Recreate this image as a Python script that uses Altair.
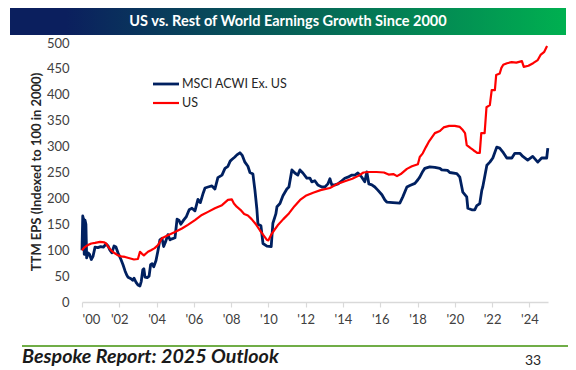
import altair as alt
import pandas as pd

title_text = "US vs. Rest of World Earnings Growth Since 2000"
footer_text = "Bespoke Report: 2025 Outlook"
page_number = "33"
y_title = "TTM EPS (Indexed to 100 in 2000)"

series_names = ["MSCI ACWI Ex. US", "US"]
series_colors = ["#002060", "#ff0000"]
series_widths = [2.8, 2.2]

x_ticks = [2000, 2002, 2004, 2006, 2008, 2010, 2012, 2014, 2016, 2018, 2020, 2022, 2024]
y_ticks = [0, 50, 100, 150, 200, 250, 300, 350, 400, 450, 500]

msci_years = [
    2000.00, 2000.04, 2000.08, 2000.12, 2000.16, 2000.21, 2000.25, 2000.32, 2000.40, 2000.50,
    2000.59, 2000.70, 2000.85, 2001.00, 2001.15, 2001.29, 2001.40, 2001.50, 2001.60, 2001.72,
    2001.82, 2001.93, 2002.09, 2002.20, 2002.31, 2002.40, 2002.47, 2002.63, 2002.72, 2002.79,
    2002.90, 2003.00, 2003.11, 2003.18, 2003.26, 2003.32, 2003.38, 2003.50, 2003.60, 2003.68,
    2003.76, 2003.85, 2003.97, 2004.08, 2004.18, 2004.29, 2004.38, 2004.50, 2004.61, 2004.72,
    2004.83, 2004.99, 2005.10, 2005.20, 2005.30, 2005.45, 2005.60, 2005.75, 2005.90, 2006.06,
    2006.22, 2006.35, 2006.50, 2006.60, 2006.76, 2006.97, 2007.13, 2007.29, 2007.51, 2007.67,
    2007.83, 2007.95, 2008.04, 2008.20, 2008.31, 2008.47, 2008.60, 2008.74, 2008.90, 2009.01,
    2009.17, 2009.28, 2009.38, 2009.44, 2009.60, 2009.71, 2009.92, 2010.15, 2010.24, 2010.40,
    2010.46, 2010.62, 2010.78, 2010.99, 2011.10, 2011.26, 2011.42, 2011.58, 2011.69, 2011.85,
    2012.06, 2012.23, 2012.33, 2012.49, 2012.65, 2012.87, 2013.03, 2013.19, 2013.30, 2013.40,
    2013.57, 2013.73, 2013.94, 2014.10, 2014.26, 2014.48, 2014.64, 2014.80, 2015.01, 2015.17,
    2015.28, 2015.39, 2015.55, 2015.71, 2015.87, 2016.09, 2016.25, 2016.35, 2016.68, 2017.05,
    2017.21, 2017.43, 2017.59, 2017.86, 2018.02, 2018.12, 2018.28, 2018.39, 2018.66, 2018.93,
    2019.20, 2019.30, 2019.62, 2019.73, 2020.11, 2020.27, 2020.43, 2020.64, 2020.70, 2020.91,
    2021.07, 2021.18, 2021.34, 2021.45, 2021.50, 2021.72, 2021.88, 2022.04, 2022.25, 2022.41,
    2022.57, 2022.79, 2023.06, 2023.22, 2023.49, 2023.65, 2023.91, 2024.18, 2024.45, 2024.66,
    2024.93, 2024.99,
]
msci_values = [
    100, 166, 160, 92, 158, 150, 85, 95, 92, 82,
    88, 106, 105, 107, 106, 112, 108, 100, 95, 108,
    106, 95, 82, 72, 60, 52, 48, 45, 42, 46,
    38, 33, 31, 40, 62, 64, 48, 47, 50, 72,
    74, 68, 80, 100, 120, 123, 107, 118, 130, 120,
    122, 124, 160, 158, 150, 158, 165, 178, 181, 176,
    198, 192, 210, 220, 222, 224, 218, 240, 245, 258,
    262, 272, 275, 280, 284, 288, 283, 270, 262, 250,
    247, 215, 180, 150, 147, 113, 108, 107, 152, 170,
    184, 190, 205, 218, 222, 255, 249, 245, 255, 249,
    239, 239, 232, 234, 226, 222, 222, 228, 238, 226,
    226, 228, 234, 239, 241, 245, 245, 249, 241, 232,
    251, 228, 226, 222, 216, 207, 197, 193, 192, 191,
    203, 222, 225, 229, 236, 241, 252, 258, 261, 260,
    258, 255, 254, 250, 248, 241, 212, 203, 181, 178,
    178, 186, 190, 216, 222, 264, 270, 278, 299, 297,
    290, 278, 278, 287, 287, 281, 274, 281, 270, 278,
    278, 297,
]

us_years = [
    2000.00, 2000.15, 2000.32, 2000.50, 2000.70, 2000.97, 2001.20, 2001.29, 2001.40, 2001.55,
    2001.72, 2001.93, 2002.10, 2002.31, 2002.60, 2002.79, 2003.00, 2003.11, 2003.22, 2003.32,
    2003.54, 2003.70, 2003.90, 2004.08, 2004.29, 2004.61, 2004.99, 2005.36, 2005.68, 2006.06,
    2006.43, 2006.76, 2007.13, 2007.51, 2007.83, 2008.04, 2008.15, 2008.30, 2008.50, 2008.70,
    2008.90, 2009.10, 2009.35, 2009.55, 2009.71, 2009.92, 2010.00, 2010.15, 2010.30, 2010.50,
    2010.80, 2011.10, 2011.40, 2011.70, 2012.00, 2012.40, 2012.80, 2013.30, 2013.70, 2014.10,
    2014.50, 2014.80, 2015.10, 2015.40, 2015.80, 2016.20, 2016.45, 2016.70, 2016.90, 2017.10,
    2017.43, 2017.70, 2018.02, 2018.12, 2018.28, 2018.45, 2018.60, 2018.93, 2019.20, 2019.40,
    2019.70, 2020.00, 2020.27, 2020.43, 2020.55, 2020.64, 2020.85, 2021.00, 2021.20, 2021.34,
    2021.42, 2021.60, 2021.70, 2021.88, 2021.98, 2022.15, 2022.22, 2022.41, 2022.50, 2022.60,
    2022.80, 2023.05, 2023.30, 2023.60, 2023.70, 2023.95, 2024.20, 2024.45, 2024.60, 2024.80,
    2024.95,
]
us_values = [
    100, 106, 110, 113, 114, 116, 115, 113, 107, 100,
    95, 90, 88, 87, 84, 82, 83, 97, 93, 90,
    97, 100, 104, 110, 123, 129, 135, 142, 149, 158,
    168, 174, 181, 187, 197, 198, 190, 184, 178, 170,
    167, 160, 149, 138, 130, 120, 119, 130, 138, 148,
    160, 171, 185, 197, 205, 211, 216, 220, 228, 233,
    238, 243, 250, 251, 251, 250, 246, 247, 243, 247,
    257, 262, 266, 280, 287, 299, 309, 326, 330, 337,
    340, 340, 338, 332, 326, 303, 297, 293, 288, 288,
    326, 326, 376, 380, 409, 409, 438, 441, 452, 458,
    461, 463, 462, 465, 454, 456, 461, 467, 477, 483,
    494,
]

df = pd.concat([
    pd.DataFrame({"year": msci_years, "value": msci_values, "series": series_names[0]}),
    pd.DataFrame({"year": us_years, "value": us_values, "series": series_names[1]}),
], ignore_index=True)

FONT = "Lato"
W, H = 466, 259

color_scale = alt.Scale(domain=series_names, range=series_colors)

lines = alt.Chart(df).mark_line(interpolate="linear", strokeJoin="round").encode(
    x=alt.X(
        "year:Q",
        scale=alt.Scale(domain=[2000, 2025], nice=False, zero=False),
        axis=alt.Axis(
            values=x_ticks,
            labelExpr="\"'\" + substring(toString(datum.value), 2, 4)",
            title=None, grid=False,
            domainColor="#d9d9d9", domainWidth=1.5,
            tickColor="#d9d9d9", tickSize=5, tickWidth=1.2,
            labelFont=FONT, labelFontSize=13, labelColor="#404040",
            labelPadding=6,
        ),
    ),
    y=alt.Y(
        "value:Q",
        scale=alt.Scale(domain=[0, 500], nice=False),
        axis=alt.Axis(
            values=y_ticks, title=y_title, grid=False, domain=False,
            ticks=False, tickSize=0, labelPadding=13,
            labelFont=FONT, labelFontSize=13, labelColor="#404040",
            titleFont=FONT, titleFontSize=13, titleFontWeight="bold",
            titleColor="#262626", titleAngle=270, titleX=-46, titleY=H / 2 - 1,
            titleAlign="center", titleBaseline="middle",
        ),
    ),
    color=alt.Color("series:N", scale=color_scale, legend=None),
    strokeWidth=alt.StrokeWidth(
        "series:N",
        scale=alt.Scale(domain=series_names, range=series_widths),
        legend=None,
    ),
)

# manual legend (positions in pixels relative to the plot area)
legend_layers = []
for i, (name, width) in enumerate(zip(series_names, series_widths)):
    ldf = pd.DataFrame({"series": [name]})
    yy = 41 + 19 * i
    legend_layers.append(
        alt.Chart(ldf).mark_rule().encode(
            x=alt.value(71), x2=alt.value(97), y=alt.value(yy),
            color=alt.Color("series:N", scale=color_scale, legend=None),
            strokeWidth=alt.value(width),
        )
    )
    legend_layers.append(
        alt.Chart(ldf).mark_text(
            font=FONT, fontSize=12.5, color="#262626", align="left", baseline="middle",
        ).encode(x=alt.value(100), y=alt.value(yy), text="series:N")
    )

banner_df = pd.DataFrame({"t": [title_text]})
banner = alt.Chart(banner_df).mark_rect(
    fill=alt.Gradient(
        gradient="linear",
        stops=[
            alt.GradientStop(color="#0b1f5e", offset=0),
            alt.GradientStop(color="#0b1f5e", offset=0.1),
            alt.GradientStop(color="#00b050", offset=1),
        ],
        x1=0, x2=1, y1=0, y2=0,
    )
).encode(
    x=alt.value(-72), x2=alt.value(484), y=alt.value(-35), y2=alt.value(-8)
)
banner_text = alt.Chart(banner_df).mark_text(
    font=FONT, fontSize=14.5, fontWeight="bold", color="white",
    align="center", baseline="middle",
).encode(x=alt.value(206), y=alt.value(-21.5), text="t:N")

green_rule = alt.Chart(banner_df).mark_rule(color="#70ad47", strokeWidth=2).encode(
    x=alt.value(-60), x2=alt.value(486), y=alt.value(303)
)

footer_df = pd.DataFrame({"t": [footer_text]})
footer = alt.Chart(footer_df).mark_text(
    font=FONT, fontSize=19.7, fontWeight="bold", fontStyle="italic",
    color="#1a1a1a", align="left", baseline="alphabetic",
).encode(x=alt.value(-60), y=alt.value(320), text="t:N")

page_df = pd.DataFrame({"t": [page_number]})
page = alt.Chart(page_df).mark_text(
    font=FONT, fontSize=14, color="#262626", align="left", baseline="alphabetic",
).encode(x=alt.value(443), y=alt.value(322), text="t:N")

chart = alt.layer(banner, banner_text, green_rule, footer, page, lines, *legend_layers).properties(
    width=W, height=H,
    autosize=alt.AutoSizeParams(type="none"),
    padding={"left": 74, "top": 35, "right": 20, "bottom": 68},
    background="white",
).configure_view(stroke=None)

chart.save("out.html", embed_options={"renderer": "svg", "actions": False})
